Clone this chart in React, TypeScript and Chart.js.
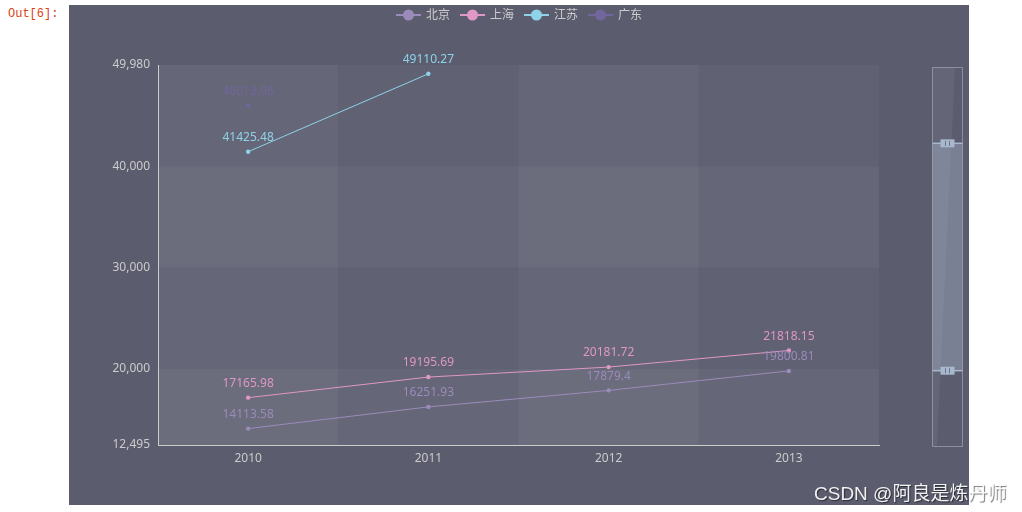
import React, { useEffect, useRef } from "react";
import { Chart, registerables } from "chart.js";

Chart.register(...registerables);

// ---- data ----
const categories = ["2010", "2011", "2012", "2013"];
const seriesNames = ["北京", "上海", "江苏", "广东"];
const beijing = [14113.58, 16251.93, 17879.4, 19800.81];
const shanghai = [17165.98, 19195.69, 20181.72, 21818.15];
const jiangsu = [41425.48, 49110.27, null, null];
const guangdong = [46013.06, null, null, null];
const yTickValues = [12495, 20000, 30000, 40000, 49980];
const yMin = 12495;
const yMax = 49980;
const zoomStartPct = 20;
const zoomEndPct = 80;

// ---- styles ----
const seriesColors = ["#9b8bba", "#e098c7", "#8fd3e8", "#71669e"];
const BG = "#5b5c6e";
const AXIS = "#cccccc";
const FONT = "'Noto Sans', 'Noto Sans CJK SC', sans-serif";
const AREA_COLORS = ["rgba(250,250,250,0.05)", "rgba(200,200,200,0.025)"];

const fmt = (v: number) => v.toLocaleString("en-US");

const splitAreaPlugin = {
  id: "splitArea",
  beforeDraw(chart: any) {
    const { ctx, chartArea } = chart;
    const xs = chart.scales.x;
    const ys = chart.scales.y;
    ctx.save();
    const step = xs.getPixelForValue(1) - xs.getPixelForValue(0);
    categories.forEach((_, i) => {
      const c = xs.getPixelForValue(i);
      ctx.fillStyle = AREA_COLORS[i % 2];
      ctx.fillRect(c - step / 2, chartArea.top, step, chartArea.bottom - chartArea.top);
    });
    for (let i = 0; i < yTickValues.length - 1; i++) {
      const y0 = ys.getPixelForValue(yTickValues[i]);
      const y1 = ys.getPixelForValue(yTickValues[i + 1]);
      ctx.fillStyle = AREA_COLORS[i % 2];
      ctx.fillRect(chartArea.left, y1, chartArea.right - chartArea.left, y0 - y1);
    }
    ctx.restore();
  },
};

const labelPlugin = {
  id: "valueLabels",
  afterDatasetsDraw(chart: any) {
    const { ctx } = chart;
    ctx.save();
    ctx.font = `12px ${FONT}`;
    ctx.textAlign = "center";
    ctx.textBaseline = "middle";
    chart.data.datasets.forEach((ds: any, di: number) => {
      const meta = chart.getDatasetMeta(di);
      meta.data.forEach((el: any, j: number) => {
        const v = ds.data[j];
        if (v === null || v === undefined) return;
        ctx.fillStyle = seriesColors[di];
        ctx.fillText(String(v), el.x, el.y - 14);
      });
    });
    ctx.restore();
  },
};

const legendPlugin = {
  id: "customLegend",
  afterDraw(chart: any) {
    const { ctx, width } = chart;
    ctx.save();
    ctx.font = `12px ${FONT}`;
    const iconW = 25;
    const gapText = 5;
    const itemGap = 10;
    const widths = seriesNames.map((n) => iconW + gapText + ctx.measureText(n).width);
    const total = widths.reduce((a, b) => a + b, 0) + itemGap * (seriesNames.length - 1);
    let x = width / 2 - total / 2;
    const cy = 10;
    seriesNames.forEach((name, i) => {
      ctx.strokeStyle = seriesColors[i];
      ctx.lineWidth = 2;
      ctx.beginPath();
      ctx.moveTo(x, cy);
      ctx.lineTo(x + iconW, cy);
      ctx.stroke();
      ctx.fillStyle = seriesColors[i];
      ctx.beginPath();
      ctx.arc(x + iconW / 2, cy, 5.5, 0, Math.PI * 2);
      ctx.fill();
      ctx.fillStyle = AXIS;
      ctx.textBaseline = "middle";
      ctx.textAlign = "left";
      ctx.fillText(name, x + iconW + gapText, cy + 1);
      x += widths[i] + itemGap;
    });
    ctx.restore();
  },
};

const sliderPlugin = {
  id: "slider",
  afterDraw(chart: any) {
    const { ctx } = chart;
    const left = 863.5;
    const right = 893.5;
    const top = 62.5;
    const bottom = 441.5;
    const h = bottom - top;
    ctx.save();
    // data shadow
    ctx.fillStyle = "rgba(255,255,255,0.06)";
    ctx.beginPath();
    ctx.moveTo(left, top);
    ctx.lineTo(886, top);
    ctx.lineTo(868, bottom);
    ctx.lineTo(left, bottom);
    ctx.closePath();
    ctx.fill();
    // selected range
    const yA = top + (h * zoomStartPct) / 100;
    const yB = top + (h * zoomEndPct) / 100;
    ctx.fillStyle = "rgba(167,183,204,0.4)";
    ctx.fillRect(left, yA, right - left, yB - yA);
    // border
    ctx.strokeStyle = "rgba(200,205,215,0.45)";
    ctx.lineWidth = 1;
    ctx.strokeRect(left, top, right - left, h);
    // handles
    [yA, yB].forEach((y) => {
      ctx.strokeStyle = "#a7b7cc";
      ctx.lineWidth = 1.5;
      ctx.beginPath();
      ctx.moveTo(left, y);
      ctx.lineTo(right, y);
      ctx.stroke();
      const cx = (left + right) / 2;
      ctx.fillStyle = "#a7b7cc";
      ctx.fillRect(cx - 7, y - 4, 14, 8);
      ctx.strokeStyle = "#6d7388";
      ctx.lineWidth = 1;
      ctx.beginPath();
      ctx.moveTo(cx - 2, y - 2.5);
      ctx.lineTo(cx - 2, y + 2.5);
      ctx.moveTo(cx + 2, y - 2.5);
      ctx.lineTo(cx + 2, y + 2.5);
      ctx.stroke();
    });
    ctx.restore();
  },
};

export default function App() {
  const ref = useRef<HTMLCanvasElement | null>(null);

  useEffect(() => {
    if (!ref.current) return;
    const allSeries = [beijing, shanghai, jiangsu, guangdong];
    const chart = new Chart(ref.current, {
      type: "line",
      data: {
        labels: categories,
        datasets: allSeries.map((d, i) => ({
          label: seriesNames[i],
          data: d as any,
          borderColor: seriesColors[i],
          backgroundColor: seriesColors[i],
          pointBackgroundColor: seriesColors[i],
          pointBorderWidth: 0,
          pointRadius: 2.2,
          borderWidth: 1,
          tension: 0,
          spanGaps: false,
          fill: false,
        })),
      },
      options: {
        responsive: false,
        animation: false,
        layout: { padding: { top: 60, right: 90, left: 0, bottom: 0 } },
        plugins: {
          legend: { display: false },
          tooltip: { enabled: false },
        },
        scales: {
          x: {
            type: "category",
            offset: true,
            grid: { display: false, offset: true, drawTicks: false },
            border: { display: true, color: AXIS, width: 1 },
            ticks: { color: AXIS, font: { size: 12, family: FONT }, padding: 6 },
            afterFit: (s: any) => {
              s.height = 60;
            },
          },
          y: {
            type: "linear",
            min: yMin,
            max: yMax,
            grid: { display: false, drawTicks: false },
            border: { display: true, color: AXIS, width: 1 },
            ticks: {
              color: AXIS,
              font: { size: 12, family: FONT },
              padding: 8,
              callback: (v: any) => fmt(Number(v)),
            },
            afterBuildTicks: (s: any) => {
              s.ticks = yTickValues.map((v) => ({ value: v }));
            },
            afterFit: (s: any) => {
              s.width = 89;
            },
          },
        },
      },
      plugins: [splitAreaPlugin, labelPlugin, legendPlugin, sliderPlugin],
    });
    return () => chart.destroy();
  }, []);

  return (
    <div>
      <div
        style={{
          position: "absolute",
          left: 8,
          top: 6,
          fontFamily: "'Liberation Mono', monospace",
          fontSize: 12,
          lineHeight: "16px",
          color: "#d84315",
        }}
      >
        Out[6]:
      </div>
      <div style={{ position: "absolute", left: 69, top: 5, width: 900, height: 500, background: BG }}>
        <canvas ref={ref} width={900} height={500} style={{ display: "block", width: 900, height: 500 }} />
      </div>
      <div
        style={{
          position: "absolute",
          left: 814,
          top: 484,
          fontFamily: "'Liberation Sans', 'Noto Sans CJK SC', sans-serif",
          fontSize: 19,
          lineHeight: "19px",
          color: "rgba(255,255,255,0.92)",
          textShadow: "1px 1px 1px rgba(0,0,0,0.55)",
          whiteSpace: "nowrap",
        }}
      >
        CSDN @阿良是炼丹师
      </div>
    </div>
  );
}
